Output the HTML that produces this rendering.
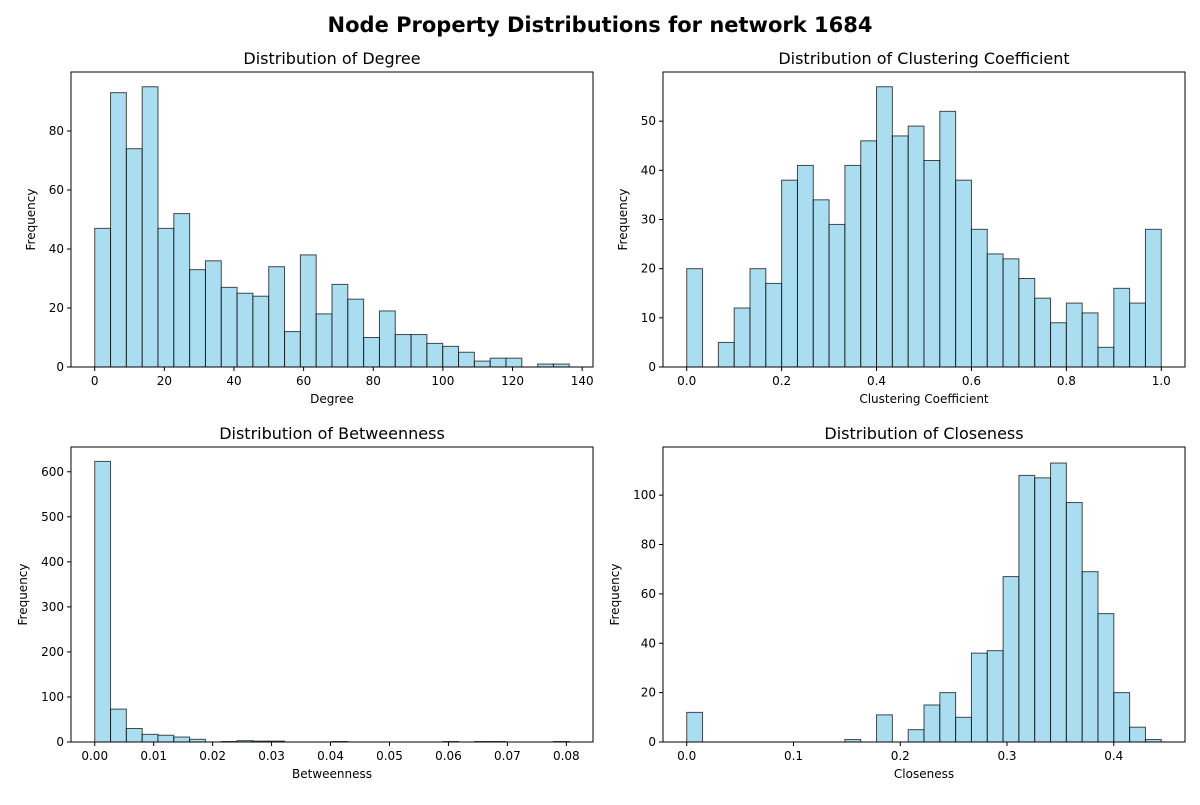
<!DOCTYPE html>
<html><head><meta charset="utf-8"><style>
body{margin:0;background:#fff;font-family:"Liberation Sans","DejaVu Sans",sans-serif}
svg text{font-family:"DejaVu Sans","Liberation Sans",sans-serif}
</style></head><body>
<svg id="fig" width="1200" height="800" xmlns="http://www.w3.org/2000/svg">
<text x="600" y="32" text-anchor="middle" font-size="21" font-weight="bold">Node Property Distributions for network 1684</text>
</svg>
<script>
const degreeCounts=[47,93,74,95,47,52,33,36,27,25,24,34,12,38,18,28,23,10,19,11,11,8,7,5,2,3,3,0,1,1];
const degreeRange=[0,136.3];
const degreeXTicks=[0,20,40,60,80,100,120,140];
const degreeYTicks=[0,20,40,60,80];
const clusterCounts=[20,0,5,12,20,17,38,41,34,29,41,46,57,47,49,42,52,38,28,23,22,18,14,9,13,11,4,16,13,28];
const clusterRange=[0,1];
const clusterXTicks=[0,0.2,0.4,0.6,0.8,1.0];
const clusterYTicks=[0,10,20,30,40,50];
const betweenCounts=[623,73,30,17,15,11,6,0,1,3,2,2,0,0,0,1,0,0,0,0,0,0,1,0,1,1,0,0,0,1];
const betweenRange=[0,0.0805];
const betweenXTicks=[0,0.01,0.02,0.03,0.04,0.05,0.06,0.07,0.08];
const betweenYTicks=[0,100,200,300,400,500,600];
const closeCounts=[12,0,0,0,0,0,0,0,0,0,1,0,11,0,5,15,20,10,36,37,67,108,107,113,97,69,52,20,6,1];
const closeRange=[0,0.4445];
const closeXTicks=[0,0.1,0.2,0.3,0.4];
const closeYTicks=[0,20,40,60,80,100];

const NS="http://www.w3.org/2000/svg";
const fig=document.getElementById('fig');
function mk(tag,attrs,parent){const e=document.createElementNS(NS,tag);for(const k in attrs)e.setAttribute(k,attrs[k]);(parent||fig).appendChild(e);return e;}
function fmt(v,dec){return dec?v.toFixed(dec):String(v);}
function panel(key,box,counts,range,xt,xdec,yt,ymax,title,xlabel){
  const [L,T,R,B]=box;
  const g=mk('g',{});
  
  
  const pad=(range[1]-range[0])*0.05;
  const x0=range[0]-pad,x1=range[1]+pad;
  const xs=v=>L+(v-x0)/(x1-x0)*(R-L);
  const ys=v=>B-v/ymax*(B-T);
  const n=counts.length,w=(range[1]-range[0])/n;
  counts.forEach((c,i)=>{
    if(c<=0)return;
    const a=xs(range[0]+i*w),b=xs(range[0]+(i+1)*w);
    const r=mk('rect',{x:a,y:ys(c),width:b-a,height:B-ys(c),fill:'#87ceeb','fill-opacity':0.7,stroke:'#000','stroke-opacity':0.7,'stroke-width':1},g);
    
    
  });
  const fr=mk('rect',{x:L,y:T,width:R-L,height:B-T,fill:'none',stroke:'#000','stroke-width':1},g);
  
  
  xt.forEach(v=>{const x=xs(v);mk('line',{x1:x,x2:x,y1:B,y2:B+4,stroke:'#000'},g);
    const t=mk('text',{x:x,y:B+18,'text-anchor':'middle','font-size':12},g);t.textContent=fmt(v,xdec);
    
    });
  yt.forEach(v=>{const y=ys(v);mk('line',{x1:L-4,x2:L,y1:y,y2:y,stroke:'#000'},g);
    const t=mk('text',{x:L-7,y:y+4,'text-anchor':'end','font-size':12},g);t.textContent=String(v);
    
    });
  const tt=mk('text',{x:(L+R)/2,y:T-8,'text-anchor':'middle','font-size':16},g);tt.textContent=title;
  
  
  const xl=mk('text',{x:(L+R)/2,y:B+36,'text-anchor':'middle','font-size':12},g);xl.textContent=xlabel;
  
  
  const yw=Math.max(...yt.map(v=>String(v).length))*7.6;
  const yx=L-12-yw-9,yy=(T+B)/2;
  const yl=mk('text',{x:yx,y:yy,'text-anchor':'middle','font-size':12,transform:`rotate(-90 ${yx} ${yy})`},g);yl.textContent='Frequency';
  
  
}
panel('degree',[71,72,593,367],degreeCounts,degreeRange,degreeXTicks,0,degreeYTicks,100,'Distribution of Degree','Degree');
panel('clustering',[663,72,1185,367],clusterCounts,clusterRange,clusterXTicks,1,clusterYTicks,60,'Distribution of Clustering Coefficient','Clustering Coefficient');
panel('betweenness',[71,447,593,742],betweenCounts,betweenRange,betweenXTicks,2,betweenYTicks,655,'Distribution of Betweenness','Betweenness');
panel('closeness',[663,447,1185,742],closeCounts,closeRange,closeXTicks,1,closeYTicks,119.5,'Distribution of Closeness','Closeness');
</script>
</body></html>
